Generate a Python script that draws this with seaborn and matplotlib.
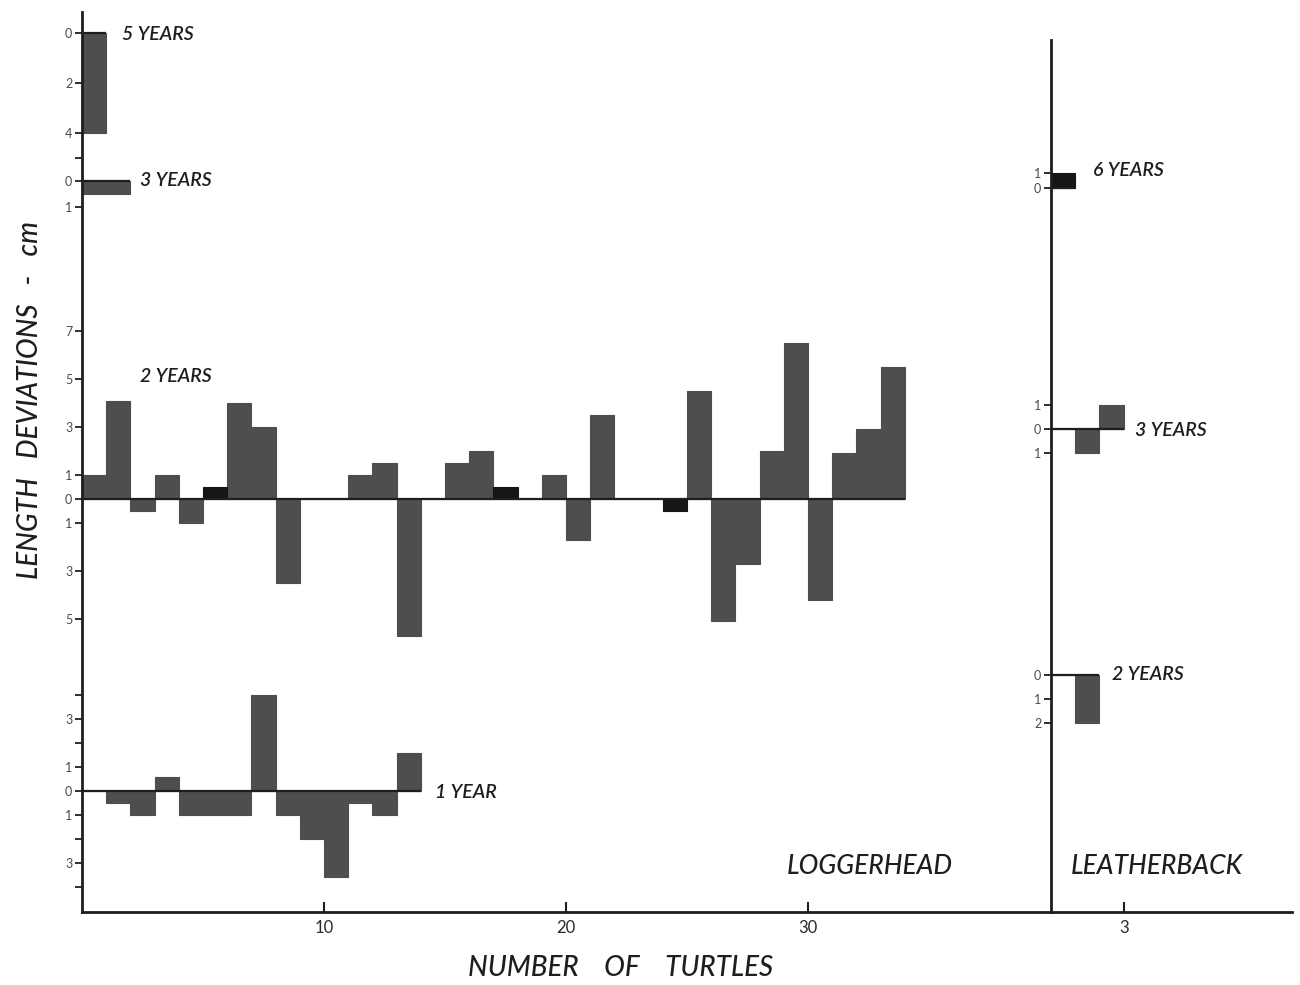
import matplotlib
matplotlib.use("Agg")
import numpy as np
import pandas as pd
import seaborn as sns
import matplotlib.pyplot as plt

# ---------------- data (length deviations, cm; + above zero, - below) -------------
lh_5yr = [-4]
lh_3yr = [-0.5, -0.5]
lh_2yr = [1, 4.1, -0.5, 1, -1, 0.5, 4, 3, -3.5, 0, 0, 1, 1.5, -5.7, 0, 1.5, 2,
          0.5, 0, 1, -1.7, 3.5, 0, 0, -0.5, 4.5, -5.1, -2.7, 2, 6.5, -4.2, 1.9,
          2.9, 5.5]
lh_1yr = [0, -0.5, -1, 0.6, -1, -1, -1, 4, -1, -2, -3.6, -0.5, -1, 1.6]

lb_6yr = [1]
lb_3yr = [0, -1, 1]
lb_2yr = [0, -2]

lh_xticks = [10, 20, 30]
lb_xticks = [3]

# ---------------- styling ----------------
sns.set_style("white")
plt.rcParams["font.family"] = ["Lato", "DejaVu Sans"]

GRAY = "#4e4e4e"
BLACK = "#161616"
INK = "#1e1e1e"

# turtles drawn as solid black bars (style only)
dark_bars = {"lh_2yr": [6, 18, 25], "lb_6yr": [1]}

W, H = 1300, 985
fig = plt.figure(figsize=(W / 100, H / 100), dpi=100)
PXX = 24.2   # px per turtle
PXY = 24.0   # px per cm
bottom_px, top_px = 912, 12
ax1 = fig.add_axes([82 / W, 1 - bottom_px / H, 969 / W, (bottom_px - top_px) / H])
ax2 = fig.add_axes([1051 / W, 1 - bottom_px / H, 241 / W, (bottom_px - top_px) / H])
YMAX = (bottom_px - top_px) / PXY


def ypix(p):
    return (bottom_px - p) / PXY


def draw_group(ax, key, values, base, scale, ticks, ticklabels, tpos, tlist):
    n = len(values)
    df = pd.DataFrame({"turtle": np.arange(1, n + 1), "dev": values})
    df["x"] = df["turtle"] - 0.5
    df["h"] = df["dev"] * scale
    dk = dark_bars.get(key, [])
    df["shade"] = ["dark" if t in dk else "mid" for t in df["turtle"]]
    sns.barplot(data=df, x="x", y="h", hue="shade",
                palette={"dark": BLACK, "mid": GRAY},
                native_scale=True, width=1, bottom=base, errorbar=None,
                saturation=1, legend=False, ax=ax, linewidth=0, zorder=2)
    ax.plot([0, n], [base, base], color=INK, lw=1.6, zorder=3,
            solid_capstyle="butt")
    for v, lab in zip(ticks, ticklabels):
        tpos.append(base + scale * v)
        tlist.append(lab)


# ---------------- loggerhead ----------------
t1_pos, t1_lab = [], []
b5 = ypix(33)
b3 = ypix(181)
b2 = ypix(499)
b1 = ypix(791)
draw_group(ax1, "lh_5yr", lh_5yr, b5, 1.04, [0, -2, -4, -5], ["0", "2", "4", ""], t1_pos, t1_lab)
draw_group(ax1, "lh_3yr", lh_3yr, b3, 1.1, [0, -1], ["0", "1"], t1_pos, t1_lab)
draw_group(ax1, "lh_2yr", lh_2yr, b2, 1.0, [7, 5, 3, 1, 0, -1, -3, -5],
           ["7", "5", "3", "1", "0", "1", "3", "5"], t1_pos, t1_lab)
draw_group(ax1, "lh_1yr", lh_1yr, b1, 1.0, [4, 3, 2, 1, 0, -1, -2, -3, -4],
           ["", "3", "", "1", "0", "1", "", "3", ""], t1_pos, t1_lab)

# ---------------- leatherback ----------------
t2_pos, t2_lab = [], []
c6 = ypix(188)
c3 = ypix(429)
c2 = ypix(675)
draw_group(ax2, "lb_6yr", lb_6yr, c6, 0.63, [1, 0], ["1", "0"], t2_pos, t2_lab)
draw_group(ax2, "lb_3yr", lb_3yr, c3, 1.0, [1, 0, -1], ["1", "0", "1"], t2_pos, t2_lab)
draw_group(ax2, "lb_2yr", lb_2yr, c2, 1.0, [0, -1, -2], ["0", "1", "2"], t2_pos, t2_lab)

for ax in (ax1, ax2):
    for p in ax.patches:
        p.set_edgecolor(p.get_facecolor())
        p.set_linewidth(0.8)
    ax.set(xlabel="", ylabel="")
    ax.set_facecolor("none")
    ax.set_ylim(0, YMAX)
    for s in ("top", "right"):
        ax.spines[s].set_visible(False)
    for s in ("left", "bottom"):
        ax.spines[s].set_color(INK)
        ax.spines[s].set_linewidth(2.0)
    ax.tick_params(axis="y", left=True, direction="out", length=5, width=1.3,
                   labelsize=9, labelcolor="#4a4a4a", color=INK, pad=2)
    ax.tick_params(axis="x", bottom=True, direction="in", length=7, width=1.5,
                   labelsize=12, labelcolor="#2a2a2a", color=INK, pad=6)

ax1.set_xlim(0, 969 / PXX)
ax2.set_xlim(0, 241 / PXX)
ax2.spines["left"].set_bounds(0, ypix(40))

ax1.set_yticks(t1_pos, t1_lab)
ax2.set_yticks(t2_pos, t2_lab)
ax1.set_xticks(lh_xticks, [str(v) for v in lh_xticks])
ax2.set_xticks(lb_xticks, [str(v) for v in lb_xticks])

lab_kw = dict(fontsize=14, style="italic", weight="semibold", color=INK,
              va="center", ha="left")
ax1.text((122 - 82) / PXX, ypix(34), "5 YEARS", **lab_kw)
ax1.text((140 - 82) / PXX, ypix(181), "3 YEARS", **lab_kw)
ax1.text((140 - 82) / PXX, ypix(377), "2 YEARS", **lab_kw)
ax1.text((435 - 82) / PXX, ypix(793), "1 YEAR", **lab_kw)
ax2.text((1093 - 1051) / PXX, ypix(170), "6 YEARS", **lab_kw)
ax2.text((1135 - 1051) / PXX, ypix(430), "3 YEARS", **lab_kw)
ax2.text((1112 - 1051) / PXX, ypix(674), "2 YEARS", **lab_kw)

big = dict(fontsize=19, style="italic", weight="medium", color=INK,
           va="center", ha="center")
ax1.text((870 - 82) / PXX, ypix(866), "LOGGERHEAD", **big)
ax2.text((1157 - 1051) / PXX, ypix(866), "LEATHERBACK", **big)

fig.text(621 / W, 1 - 968 / H, "NUMBER    OF    TURTLES", fontsize=20,
         style="italic", weight="medium", color=INK, ha="center", va="center")
fig.text(30 / W, 1 - 400 / H, "LENGTH   DEVIATIONS   -   cm", fontsize=20,
         style="italic", weight="medium", color=INK, ha="center", va="center",
         rotation=90)

fig.savefig("out.png", dpi=100, facecolor="white")
